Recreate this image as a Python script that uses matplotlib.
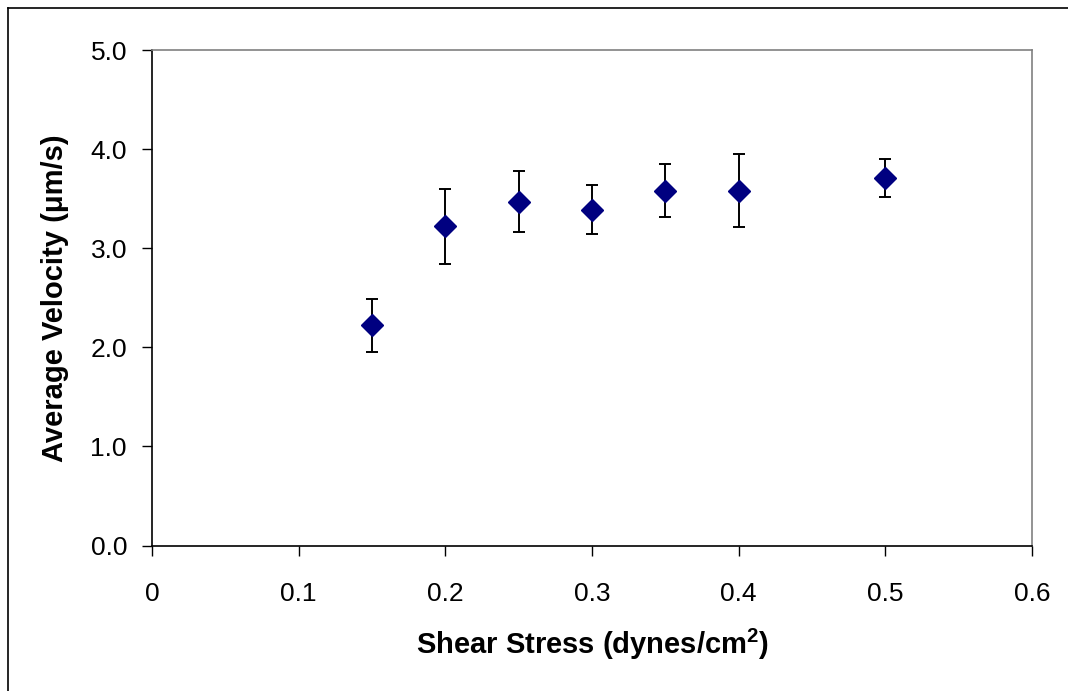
import numpy as np
import matplotlib.pyplot as plt
from matplotlib.lines import Line2D

# data
shear = [0.15, 0.20, 0.25, 0.30, 0.35, 0.40, 0.50]
velocity = [2.22, 3.22, 3.47, 3.39, 3.58, 3.58, 3.71]
err = [0.27, 0.375, 0.31, 0.247, 0.27, 0.37, 0.19]

x_ticks = [0, 0.1, 0.2, 0.3, 0.4, 0.5, 0.6]
x_ticklabels = ["0", "0.1", "0.2", "0.3", "0.4", "0.5", "0.6"]
y_ticks = [0, 1, 2, 3, 4, 5]

plt.rcParams["font.family"] = ["Liberation Sans", "DejaVu Sans"]
plt.rcParams["mathtext.fontset"] = "custom"
plt.rcParams["mathtext.rm"] = "Liberation Sans"
plt.rcParams["mathtext.bf"] = "Liberation Sans:bold"

W, H = 1068, 691
fig = plt.figure(figsize=(W / 100, H / 100), dpi=100)
ax = fig.add_axes([152 / W, 1 - 545.5 / H, 880 / W, 495.5 / H])

ax.errorbar(shear, velocity, yerr=err, fmt="D", color="#000080",
            markersize=11, ecolor="black", elinewidth=1.4,
            capsize=4.5, capthick=1.4, zorder=3)

ax.set_xlim(0, 0.6)
ax.set_ylim(0, 5)
ax.set_xticks(x_ticks)
ax.set_xticklabels(x_ticklabels)
ax.set_yticks(y_ticks)
ax.set_yticklabels([f"{v:.1f}" for v in y_ticks])
ax.tick_params(direction="out", length=7, width=1, labelsize=19, color="black")
ax.tick_params(axis="x", pad=19)
ax.tick_params(axis="y", pad=11)

for side in ["left", "bottom"]:
    ax.spines[side].set_color("black")
    ax.spines[side].set_linewidth(1.2)
for side in ["top", "right"]:
    ax.spines[side].set_color("#808080")
    ax.spines[side].set_linewidth(1.2)

ax.set_xlabel("Shear Stress (dynes/cm$^{\\mathbf{2}}$)", fontsize=21,
              fontweight="bold")
ax.set_ylabel("Average Velocity (\u03bcm/s)", fontsize=21,
              fontweight="bold")
ax.xaxis.set_label_coords(0.5, (545.5 - 627) / 495.5)
ax.yaxis.set_label_coords((69 - 152) / 880, 0.5)

# outer chart border (left and top edges visible)
fig.add_artist(Line2D([7.5 / W, 7.5 / W], [0, 1 - 7.5 / H],
                      transform=fig.transFigure, color="black", lw=1.2))
fig.add_artist(Line2D([7.5 / W, 1], [1 - 7.5 / H, 1 - 7.5 / H],
                      transform=fig.transFigure, color="black", lw=1.2))

fig.savefig("out.png", dpi=100)
